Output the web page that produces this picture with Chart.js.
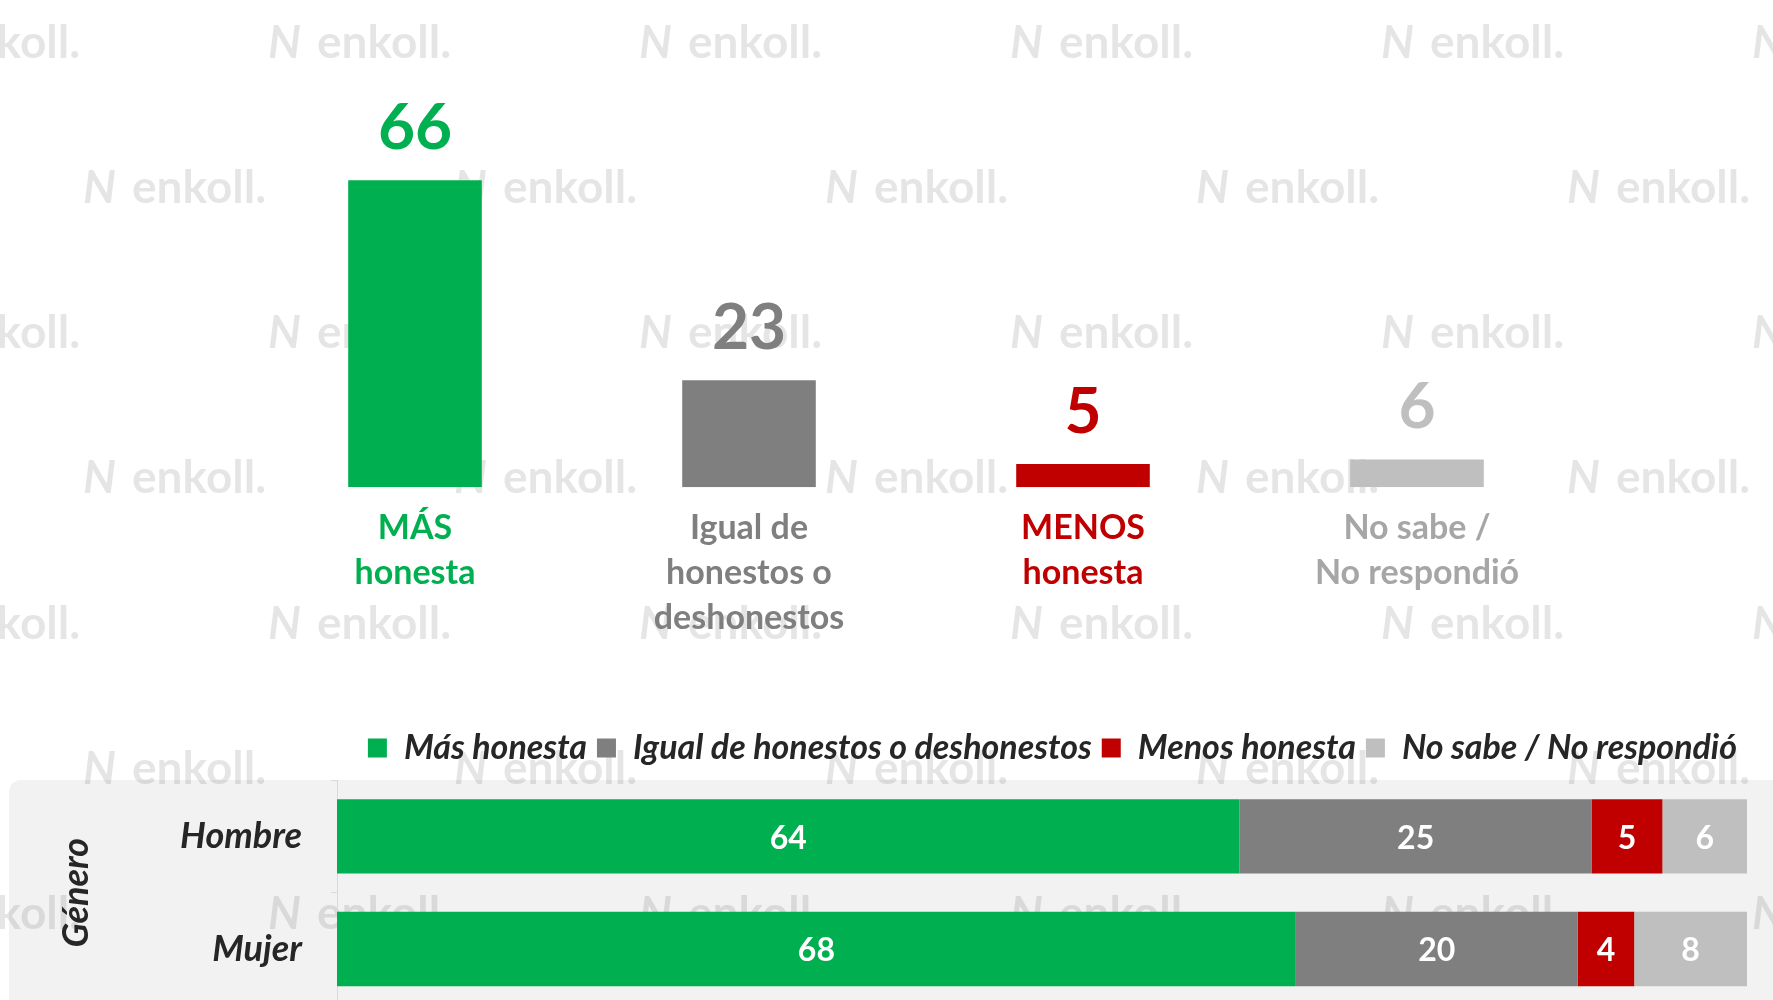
<!DOCTYPE html>
<html>
<head>
<meta charset="utf-8">
<script src="https://cdn.jsdelivr.net/npm/chart.js@4"></script>
<style>
  html, body { margin: 0; padding: 0; background: #fff; width: 1773px; height: 1000px; overflow: hidden; }
  #topWrap { position: absolute; left: 0; top: 0; width: 1773px; height: 658px; }
  #bottomWrap { position: absolute; left: 0; top: 708px; width: 1773px; height: 348px; }
</style>
</head>
<body>
<div id="topWrap"><canvas id="topChart"></canvas></div>
<div id="bottomWrap"><canvas id="genderChart"></canvas></div>
<script>
// Overall result
const topCategories = [['MÁS', 'honesta'], ['Igual de', 'honestos o', 'deshonestos'], ['MENOS', 'honesta'], ['No sabe /', 'No respondió']];
const topValues = [66, 23, 5, 6];

// By gender
const genderGroups = ['Hombre', 'Mujer'];
const seriesNames = ['Más honesta', 'Igual de honestos o deshonestos', 'Menos honesta', 'No sabe / No respondió'];
const masHonesta = [64, 68];
const igualHonestos = [25, 20];
const menosHonesta = [5, 4];
const noSabe = [6, 8];

const barColors = ['#00B050', '#7F7F7F', '#C00000', '#BFBFBF'];
const labelColors = ['#00B050', '#7F7F7F', '#C00000', '#A6A6A6'];
const FONT = 'Lato';

// faint "enkoll." watermark tiled over the page, drawn behind the bars
const watermark = {
    id: 'watermark',
    beforeDraw(chart, args, opts) {
        const ctx = chart.ctx;
        const off = opts.offsetY || 0;
        ctx.save();
        if (opts.panel) {
            const a = chart.chartArea;
            ctx.fillStyle = '#F2F2F2';
            ctx.beginPath();
            ctx.roundRect(9, a.top, chart.width - 9, chart.height - a.top + 20, [12, 0, 0, 0]);
            ctx.fill();
        }
        ctx.fillStyle = 'rgba(0,0,0,0.1)';
        ctx.textBaseline = 'middle';
        const rows = [43, 188, 333, 478, 624, 769, 914];
        rows.forEach(function (ry, i) {
            const x0 = i % 2 === 0 ? 268 : 83;
            for (let x = x0 - 371; x < chart.width; x += 371) {
                ctx.font = 'italic bold 46px ' + FONT;
                ctx.fillText('N', x, ry - off);
                ctx.font = 'bold 46px ' + FONT;
                ctx.fillText('enkoll.', x + 49, ry - off);
            }
        });
        ctx.restore();
    }
};

// a bit of extra room below the legend
const legendGap = {
    id: 'legendGap',
    beforeInit(chart) {
        const fit = chart.legend.fit;
        chart.legend.fit = function () {
            fit.call(this);
            this.height += 5;
        };
    }
};

// value above each column
const topLabels = {
    id: 'topLabels',
    afterDatasetsDraw(chart) {
        const ctx = chart.ctx;
        ctx.save();
        ctx.font = 'bold 64px ' + FONT;
        ctx.textAlign = 'center';
        ctx.textBaseline = 'alphabetic';
        chart.getDatasetMeta(0).data.forEach(function (bar, i) {
            ctx.fillStyle = i === 3 ? '#BFBFBF' : barColors[i];
            ctx.fillText(topValues[i], bar.x, bar.y - 31);
        });
        ctx.restore();
    }
};

// value inside each stacked segment
const segLabels = {
    id: 'segLabels',
    afterDatasetsDraw(chart) {
        const ctx = chart.ctx;
        ctx.save();
        ctx.font = 'bold 32px ' + FONT;
        ctx.fillStyle = '#FFFFFF';
        ctx.textAlign = 'center';
        ctx.textBaseline = 'middle';
        chart.data.datasets.forEach(function (ds, d) {
            chart.getDatasetMeta(d).data.forEach(function (bar, i) {
                ctx.fillText(ds.data[i], (bar.x + bar.base) / 2, bar.y + 2);
            });
        });
        ctx.restore();
    }
};

new Chart(document.getElementById('topChart'), {
    type: 'bar',
    data: {
        labels: topCategories,
        datasets: [{
            data: topValues,
            backgroundColor: barColors,
            categoryPercentage: 1,
            barPercentage: 0.4
        }]
    },
    options: {
        responsive: true,
        maintainAspectRatio: false,
        animation: false,
        layout: { padding: { top: 115, left: 248, right: 189, bottom: 0 } },
        plugins: {
            legend: { display: false },
            tooltip: { enabled: false },
            watermark: { offsetY: 0 }
        },
        scales: {
            x: {
                grid: { display: false, drawTicks: false },
                border: { display: false },
                ticks: {
                    padding: 18,
                    color: function (c) { return labelColors[c.index]; },
                    font: { family: FONT, size: 34, weight: 'bold', lineHeight: 1.32 }
                }
            },
            y: { display: false, min: 0, max: 80 }
        }
    },
    plugins: [watermark, topLabels]
});

new Chart(document.getElementById('genderChart'), {
    type: 'bar',
    data: {
        labels: genderGroups,
        datasets: [
            { label: seriesNames[0], data: masHonesta, backgroundColor: barColors[0] },
            { label: seriesNames[1], data: igualHonestos, backgroundColor: barColors[1] },
            { label: seriesNames[2], data: menosHonesta, backgroundColor: barColors[2] },
            { label: seriesNames[3], data: noSabe, backgroundColor: barColors[3] }
        ]
    },
    options: {
        indexAxis: 'y',
        responsive: true,
        maintainAspectRatio: false,
        animation: false,
        datasets: { bar: { categoryPercentage: 1, barPercentage: 0.66 } },
        layout: { padding: { top: 13, left: 0, right: 26, bottom: 0 } },
        plugins: {
            tooltip: { enabled: false },
            watermark: { offsetY: 708, panel: true },
            legend: {
                align: 'end',
                labels: {
                    boxWidth: 19,
                    boxHeight: 19,
                    padding: 10,
                    color: '#262626',
                    font: { family: FONT, size: 34, weight: 'bold', style: 'italic' }
                }
            }
        },
        scales: {
            x: { display: false, stacked: true, min: 0, max: 100 },
            y: {
                stacked: true,
                afterFit: function (s) { s.width = 337; },
                grid: { drawOnChartArea: false, tickLength: 6, color: '#D9D9D9' },
                border: { color: '#D9D9D9' },
                ticks: {
                    padding: 29,
                    color: '#262626',
                    font: { family: FONT, size: 36, weight: 'bold', style: 'italic' }
                },
                title: {
                    display: true,
                    text: 'Género',
                    color: '#262626',
                    padding: { top: 55, bottom: 0 },
                    font: { family: FONT, size: 36, weight: 'bold', style: 'italic' }
                }
            }
        }
    },
    plugins: [watermark, legendGap, segLabels]
});
</script>
</body>
</html>
